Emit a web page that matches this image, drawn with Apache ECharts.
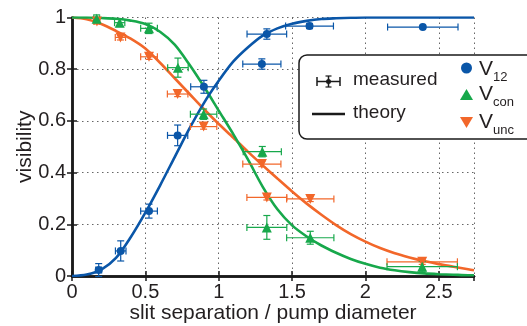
<!DOCTYPE html>
<html>
<head>
<meta charset="utf-8">
<script src="https://cdn.jsdelivr.net/npm/echarts@6/dist/echarts.min.js"></script>
<style>
  html, body { margin: 0; padding: 0; background: #fff; }
  #chart { width: 527px; height: 326px; }
</style>
</head>
<body>
<div id="chart"></div>
<script>
// measured points: x, y, x error, y error
var v12X    = [0.182, 0.332, 0.525, 0.720, 0.899, 1.328, 1.294, 1.619, 2.391];
var v12Y    = [0.023, 0.097, 0.251, 0.544, 0.732, 0.936, 0.820, 0.967, 0.963];
var v12XErr = [0.020, 0.036, 0.057, 0.069, 0.090, 0.135, 0.130, 0.163, 0.240];
var v12YErr = [0.025, 0.039, 0.027, 0.040, 0.025, 0.020, 0.020, 0.010, 0.000];

var conX    = [0.168, 0.325, 0.525, 0.722, 0.897, 1.297, 1.328, 1.624, 2.387];
var conY    = [0.995, 0.980, 0.958, 0.806, 0.626, 0.481, 0.188, 0.148, 0.036];
var conXErr = [0.020, 0.035, 0.057, 0.070, 0.090, 0.130, 0.136, 0.161, 0.240];
var conYErr = [0.015, 0.015, 0.020, 0.037, 0.020, 0.020, 0.046, 0.025, 0.020];

var uncX    = [0.170, 0.330, 0.525, 0.720, 0.897, 1.294, 1.328, 1.624, 2.387];
var uncY    = [0.985, 0.923, 0.848, 0.704, 0.578, 0.433, 0.304, 0.298, 0.055];
var uncXErr = [0.020, 0.035, 0.057, 0.070, 0.090, 0.130, 0.136, 0.161, 0.240];
var uncYErr = [0.010, 0.010, 0.010, 0.010, 0.010, 0.010, 0.010, 0.010, 0.010];

// theory curves sampled on a common x grid
var theoryX = [0, 0.1, 0.2, 0.3, 0.4, 0.5, 0.6, 0.7, 0.8, 0.9, 1.0, 1.1, 1.2, 1.3, 1.4,
               1.5, 1.6, 1.7, 1.8, 1.9, 2.0, 2.1, 2.2, 2.3, 2.4, 2.5, 2.6, 2.7, 2.74];
var theoryV12 = [0, 0.006, 0.025, 0.07, 0.15, 0.245, 0.35, 0.46, 0.57, 0.67, 0.755, 0.83, 0.885, 0.93, 0.958,
                 0.976, 0.987, 0.994, 0.997, 0.999, 1, 1, 1, 1, 1, 1, 1, 1, 1];
var theoryCon = [1, 1, 0.998, 0.995, 0.988, 0.975, 0.945, 0.895, 0.818, 0.732, 0.64, 0.548, 0.45, 0.345, 0.258,
                 0.196, 0.153, 0.118, 0.09, 0.066, 0.047, 0.032, 0.022, 0.015, 0.01, 0.007, 0.005, 0.003, 0.003];
var theoryUnc = [1, 0.993, 0.975, 0.948, 0.918, 0.88, 0.825, 0.765, 0.705, 0.645, 0.588, 0.535, 0.48, 0.428, 0.377,
                 0.327, 0.28, 0.237, 0.197, 0.162, 0.133, 0.108, 0.088, 0.072, 0.058, 0.046, 0.036, 0.026, 0.022];

var xMin = 0, xMax = 2.74, xStep = 0.5;
var yMin = 0, yMax = 1, yStep = 0.2;

var cBlue = '#0a56a8', cGreen = '#17a84b', cOrange = '#f2672a';
var txt = '#231f20';
var font = "'Liberation Sans', Arial, Helvetica, sans-serif";

function zip(a, b) {
  var out = [];
  for (var i = 0; i < a.length; i++) out.push([a[i], b[i]]);
  return out;
}
function zip4(a, b, c, d) {
  var out = [];
  for (var i = 0; i < a.length; i++) out.push([a[i], b[i], c[i], d[i]]);
  return out;
}

function errRender(color) {
  return function (params, api) {
    var x = api.value(0), y = api.value(1), ex = api.value(2), ey = api.value(3);
    var l = api.coord([x - ex, y]), r = api.coord([x + ex, y]);
    var t = api.coord([x, y + ey]), b = api.coord([x, y - ey]);
    var cap = 3.5;
    var st = { stroke: color, lineWidth: 1.2 };
    var kids = [
      { type: 'line', shape: { x1: l[0], y1: l[1], x2: r[0], y2: r[1] }, style: st },
      { type: 'line', shape: { x1: l[0], y1: l[1] - cap, x2: l[0], y2: l[1] + cap }, style: st },
      { type: 'line', shape: { x1: r[0], y1: r[1] - cap, x2: r[0], y2: r[1] + cap }, style: st }
    ];
    if (ey > 0) {
      kids.push({ type: 'line', shape: { x1: t[0], y1: t[1], x2: b[0], y2: b[1] }, style: st });
      kids.push({ type: 'line', shape: { x1: t[0] - cap, y1: t[1], x2: t[0] + cap, y2: t[1] }, style: st });
      kids.push({ type: 'line', shape: { x1: b[0] - cap, y1: b[1], x2: b[0] + cap, y2: b[1] }, style: st });
    }
    return { type: 'group', children: kids };
  };
}

function lineSeries(ys, color) {
  return {
    type: 'line', data: zip(theoryX, ys), smooth: 0.3, symbol: 'none', z: 2,
    lineStyle: { color: color, width: 2.6 }, silent: true
  };
}
function errSeries(xs, ys, exs, eys, color) {
  return {
    type: 'custom', data: zip4(xs, ys, exs, eys), renderItem: errRender(color),
    encode: { x: 0, y: 1 }, z: 3, clip: false, silent: true
  };
}
function pointSeries(xs, ys, symbol, size, color) {
  return {
    type: 'scatter', data: zip(xs, ys), symbol: symbol, symbolSize: size, z: 4,
    itemStyle: { color: color, opacity: 1 }, silent: true
  };
}

var axisLineStyle = { color: '#1a1a1a', width: 2.5 };
var gridLine = { show: true, lineStyle: { color: '#666', width: 1, type: [1.5, 3.5] } };

var option = {
  animation: false,
  backgroundColor: '#fff',
  grid: { left: 72, right: 53, top: 17.5, bottom: 50, outerBoundsMode: 'none', containLabel: false },
  xAxis: [{
    type: 'value', min: xMin, max: xMax, interval: xStep, position: 'bottom',
    axisLine: { lineStyle: axisLineStyle },
    axisTick: { inside: true, length: 5, lineStyle: { color: '#1a1a1a', width: 1.5 } },
    axisLabel: { color: txt, fontSize: 20, fontFamily: font, margin: 6, showMaxLabel: false },
    splitLine: gridLine,
    name: 'slit separation / pump diameter', nameLocation: 'middle', nameGap: 27, nameMoveOverlap: false,
    nameTextStyle: { color: txt, fontSize: 21, fontFamily: font }
  }, {
    type: 'value', min: xMin, max: xMax, interval: xStep, position: 'top',
    axisLine: { lineStyle: axisLineStyle },
    axisTick: { inside: true, length: 5, lineStyle: { color: '#1a1a1a', width: 1.5 } },
    axisLabel: { show: false }, splitLine: { show: false }
  }],
  yAxis: [{
    type: 'value', min: yMin, max: yMax, interval: yStep, position: 'left',
    axisLine: { lineStyle: axisLineStyle },
    axisTick: { inside: true, length: 5, lineStyle: { color: '#1a1a1a', width: 1.5 } },
    axisLabel: { color: txt, fontSize: 20, fontFamily: font, margin: 6 },
    splitLine: gridLine,
    name: 'visibility', nameLocation: 'middle', nameGap: 36, nameMoveOverlap: false,
    nameTextStyle: { color: txt, fontSize: 21, fontFamily: font }
  }, {
    type: 'value', min: yMin, max: yMax, interval: yStep, position: 'right',
    axisLine: { lineStyle: axisLineStyle },
    axisTick: { inside: true, length: 5, lineStyle: { color: '#1a1a1a', width: 1.5 } },
    axisLabel: { show: false }, splitLine: { show: false }
  }],
  series: [
    lineSeries(theoryUnc, cOrange),
    lineSeries(theoryCon, cGreen),
    lineSeries(theoryV12, cBlue),
    errSeries(uncX, uncY, uncXErr, uncYErr, cOrange),
    errSeries(conX, conY, conXErr, conYErr, cGreen),
    errSeries(v12X, v12Y, v12XErr, v12YErr, cBlue),
    pointSeries(uncX, uncY, 'path://M0,0L10,0L5,9Z', 10, cOrange),
    pointSeries(conX, conY, 'triangle', 10, cGreen),
    pointSeries(v12X, v12Y, 'circle', 8, cBlue)
  ],
  graphic: [
    { type: 'rect', z: 100, shape: { x: 299, y: 55, width: 240, height: 84, r: 8 },
      style: { fill: '#fff', stroke: '#1a1a1a', lineWidth: 1.5 } },
    // measured symbol
    { type: 'line', z: 101, shape: { x1: 317, y1: 81.5, x2: 340, y2: 81.5 }, style: { stroke: '#1a1a1a', lineWidth: 1.5 } },
    { type: 'line', z: 101, shape: { x1: 317, y1: 77, x2: 317, y2: 86 }, style: { stroke: '#1a1a1a', lineWidth: 1.5 } },
    { type: 'line', z: 101, shape: { x1: 340, y1: 77, x2: 340, y2: 86 }, style: { stroke: '#1a1a1a', lineWidth: 1.5 } },
    { type: 'line', z: 101, shape: { x1: 328.5, y1: 76, x2: 328.5, y2: 87 }, style: { stroke: '#1a1a1a', lineWidth: 1.5 } },
    { type: 'line', z: 101, shape: { x1: 325.5, y1: 76, x2: 331.5, y2: 76 }, style: { stroke: '#1a1a1a', lineWidth: 1.2 } },
    { type: 'line', z: 101, shape: { x1: 325.5, y1: 87, x2: 331.5, y2: 87 }, style: { stroke: '#1a1a1a', lineWidth: 1.2 } },
    { type: 'circle', z: 101, shape: { cx: 328.5, cy: 81.5, r: 2.5 }, style: { fill: '#1a1a1a' } },
    { type: 'text', z: 101, x: 353, y: 80, style: { text: 'measured', fill: txt, fontSize: 19, fontFamily: font, verticalAlign: 'middle' } },
    // theory symbol
    { type: 'line', z: 101, shape: { x1: 312, y1: 114, x2: 345, y2: 114 }, style: { stroke: '#1a1a1a', lineWidth: 2.5 } },
    { type: 'text', z: 101, x: 353, y: 113, style: { text: 'theory', fill: txt, fontSize: 19, fontFamily: font, verticalAlign: 'middle' } },
    // series markers
    { type: 'circle', z: 101, shape: { cx: 466.5, cy: 68, r: 5.5 }, style: { fill: cBlue } },
    { type: 'polygon', z: 101, shape: { points: [[466.5, 89], [473, 100], [460, 100]] }, style: { fill: cGreen } },
    { type: 'polygon', z: 101, shape: { points: [[460, 117], [473, 117], [466.5, 128]] }, style: { fill: cOrange } },
    { type: 'text', z: 101, x: 479, y: 69, style: { text: 'V', fill: txt, fontSize: 21, fontFamily: font, verticalAlign: 'middle' } },
    { type: 'text', z: 101, x: 493, y: 77, style: { text: '12', fill: txt, fontSize: 13, fontFamily: font, verticalAlign: 'middle' } },
    { type: 'text', z: 101, x: 479, y: 94, style: { text: 'V', fill: txt, fontSize: 21, fontFamily: font, verticalAlign: 'middle' } },
    { type: 'text', z: 101, x: 493, y: 102, style: { text: 'con', fill: txt, fontSize: 13, fontFamily: font, verticalAlign: 'middle' } },
    { type: 'text', z: 101, x: 479, y: 122, style: { text: 'V', fill: txt, fontSize: 21, fontFamily: font, verticalAlign: 'middle' } },
    { type: 'text', z: 101, x: 493, y: 130, style: { text: 'unc', fill: txt, fontSize: 13, fontFamily: font, verticalAlign: 'middle' } }
  ]
};

var myChart = echarts.init(document.getElementById('chart'), null, { renderer: 'canvas' });
option && myChart.setOption(option, true);
</script>
</body>
</html>
